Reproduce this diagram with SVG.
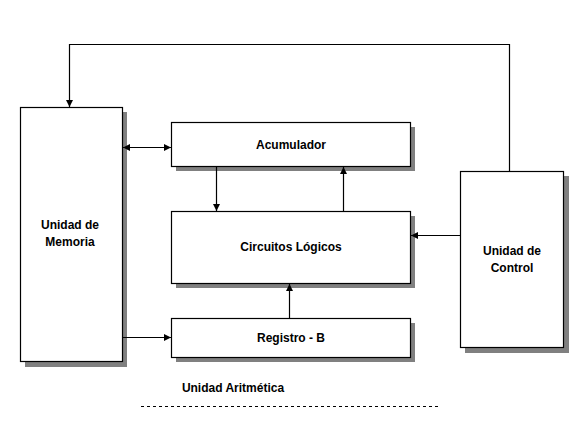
<svg xmlns="http://www.w3.org/2000/svg" width="587" height="439" viewBox="0 0 587 439">
<defs>
<style>
.box{fill:#fff;stroke:#000;stroke-width:1.2}
.sh{fill:#808080}
.t{font-family:"Liberation Sans",Arial,sans-serif;font-weight:bold;font-size:12px;fill:#000;text-anchor:middle}
.c{fill:none;stroke:#000;stroke-width:1.2}
</style>
<marker id="ah" viewBox="0 0 8 8" refX="8" refY="4" markerWidth="7" markerHeight="7" markerUnits="userSpaceOnUse" orient="auto-start-reverse">
<path d="M0,0 L8,4 L0,8 Z" fill="#000"/>
</marker>
</defs>
<rect width="587" height="439" fill="#fff"/>
<g id="memoria">
<rect class="sh" x="25" y="112" width="102" height="255"/>
<rect class="box" x="20.5" y="107.5" width="102" height="254"/>
<text class="t" x="70" y="229">Unidad de</text>
<text class="t" x="70" y="246">Memoria</text>
</g>
<g id="acumulador">
<rect class="sh" x="176" y="127" width="239" height="44"/>
<rect class="box" x="171.5" y="122.5" width="239" height="44"/>
<text class="t" x="291" y="149">Acumulador</text>
</g>
<g id="circuitos">
<rect class="sh" x="176" y="216" width="239" height="72"/>
<rect class="box" x="171.5" y="211.5" width="239" height="72"/>
<text class="t" x="291" y="251">Circuitos Lógicos</text>
</g>
<g id="registro">
<rect class="sh" x="176" y="323" width="239" height="39"/>
<rect class="box" x="171.5" y="318.5" width="239" height="39"/>
<text class="t" x="291" y="342">Registro - B</text>
</g>
<g id="control">
<rect class="sh" x="465" y="176" width="104" height="177"/>
<rect class="box" x="460.5" y="171.5" width="103" height="176"/>
<text class="t" x="512" y="255">Unidad de</text>
<text class="t" x="512" y="272">Control</text>
</g>
<g id="connectors">
<polyline class="c" points="509.5,171 509.5,44.5 69.5,44.5 69.5,107" marker-end="url(#ah)"/>
<line class="c" x1="123" y1="147.5" x2="171" y2="147.5" marker-start="url(#ah)" marker-end="url(#ah)"/>
<line class="c" x1="216.5" y1="167" x2="216.5" y2="211" marker-end="url(#ah)"/>
<line class="c" x1="343.5" y1="211" x2="343.5" y2="167" marker-end="url(#ah)"/>
<line class="c" x1="460" y1="235.5" x2="411" y2="235.5" marker-end="url(#ah)"/>
<line class="c" x1="289.5" y1="318" x2="289.5" y2="284" marker-end="url(#ah)"/>
<line class="c" x1="123" y1="337.5" x2="171" y2="337.5" marker-end="url(#ah)"/>
</g>
<text class="t" x="233" y="392">Unidad Aritmética</text>
<line x1="141" y1="406.5" x2="440" y2="406.5" stroke="#000" stroke-width="1" stroke-dasharray="3,3"/>
</svg>
